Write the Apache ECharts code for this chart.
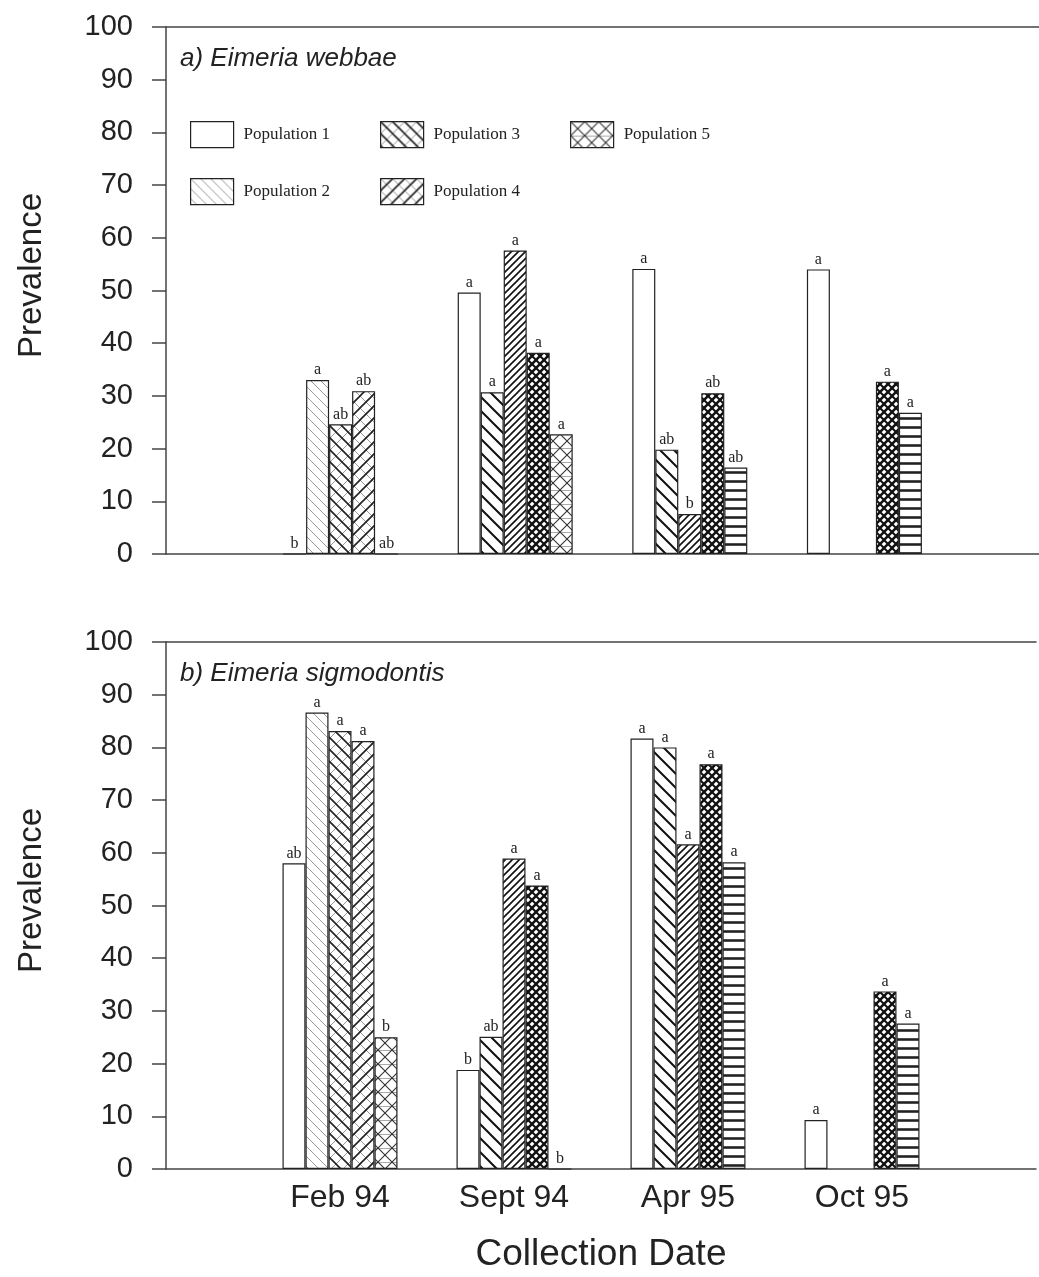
<!DOCTYPE html>
<html>
<head>
<meta charset="utf-8">
<script src="https://cdn.jsdelivr.net/npm/echarts@6/dist/echarts.min.js"></script>
<style>
  html, body { margin: 0; padding: 0; background: #fff; }
  #chart { width: 1039px; height: 1277px; }
</style>
</head>
<body>
<div id="chart"></div>
<script>
// Collection dates (x categories)
const dates = ['Feb 94', 'Sept 94', 'Apr 95', 'Oct 95'];
const populations = ['Population 1', 'Population 2', 'Population 3', 'Population 4', 'Population 5'];
const yTicks = { min: 0, max: 100, step: 10 };

// a) Eimeria webbae — prevalence (%) per population, one value per date
const webbaePop1 = [0, 49.6, 54.1, 54.0];
const webbaePop2 = [33.0, 30.7, 19.8, null];
const webbaePop3 = [24.6, 57.6, 7.6, null];
const webbaePop4 = [30.9, 38.2, 30.5, 32.7];
const webbaePop5 = [0, 22.7, 16.4, 26.8];
// significance letters above the bars
const webbaeSig1 = ['b', 'a', 'a', 'a'];
const webbaeSig2 = ['a', 'a', 'ab', ''];
const webbaeSig3 = ['ab', 'a', 'b', ''];
const webbaeSig4 = ['ab', 'a', 'ab', 'a'];
const webbaeSig5 = ['ab', 'a', 'ab', 'a'];

// b) Eimeria sigmodontis
const sigmoPop1 = [58.0, 18.8, 81.7, 9.3];
const sigmoPop2 = [86.6, 25.1, 80.0, null];
const sigmoPop3 = [83.1, 58.9, 61.6, null];
const sigmoPop4 = [81.2, 53.8, 76.8, 33.7];
const sigmoPop5 = [25.0, 0, 58.2, 27.6];
const sigmoSig1 = ['ab', 'b', 'a', 'a'];
const sigmoSig2 = ['a', 'ab', 'a', ''];
const sigmoSig3 = ['a', 'a', 'a', ''];
const sigmoSig4 = ['a', 'a', 'a', 'a'];
const sigmoSig5 = ['b', 'b', 'a', 'a'];

// ---- hatch fills --------------------------------------------------------
function tile(w, h, draw) {
  const c = document.createElement('canvas');
  c.width = w; c.height = h;
  const g = c.getContext('2d');
  g.fillStyle = '#fff';
  g.fillRect(0, 0, w, h);
  draw(g, w, h);
  return c;
}
function back(g, s, color, lw) {      // "\" lines
  g.strokeStyle = color; g.lineWidth = lw; g.beginPath();
  for (let k = -1; k <= 1; k++) { g.moveTo(k * s - 1, -1); g.lineTo(k * s + s + 1, s + 1); }
  g.stroke();
}
function fwd(g, s, color, lw) {       // "/" lines
  g.strokeStyle = color; g.lineWidth = lw; g.beginPath();
  for (let k = -1; k <= 1; k++) { g.moveTo(k * s - 1, s + 1); g.lineTo(k * s + s + 1, -1); }
  g.stroke();
}
function horiz(g, w, y, color, lw) {
  g.strokeStyle = color; g.lineWidth = lw; g.beginPath();
  g.moveTo(0, y); g.lineTo(w, y); g.stroke();
}
const fills = {
  none: '#ffffff',
  lightBack: { image: tile(10, 10, (g, s) => back(g, s, '#9a9a9a', 1)), repeat: 'repeat' },
  crossA: { image: tile(12, 12, (g, s) => { fwd(g, s, '#8a8a8a', 0.9); back(g, s, '#222', 1.6); }), repeat: 'repeat' },
  crossB: { image: tile(12, 12, (g, s) => { back(g, s, '#8a8a8a', 0.9); fwd(g, s, '#222', 1.6); }), repeat: 'repeat' },
  crossH: { image: tile(14, 14, (g, s) => { horiz(g, s, 0.5, '#aaa', 1); back(g, s, '#333', 1.1); fwd(g, s, '#333', 1.1); }), repeat: 'repeat' },
  boldBack: { image: tile(14, 14, (g, s) => back(g, s, '#111', 2)), repeat: 'repeat' },
  denseFwd: { image: tile(7, 7, (g, s) => fwd(g, s, '#111', 1.6)), repeat: 'repeat' },
  denseCross: { image: tile(8, 8, (g, s) => { back(g, s, '#111', 2.0); fwd(g, s, '#111', 2.5); }), repeat: 'repeat' },
  horiz: { image: tile(9, 9, (g, w) => horiz(g, w, 4.5, '#222', 2.6)), repeat: 'repeat' }
};
// hatch used by each population at each date
const hatchByDate = [
  ['none', 'lightBack', 'crossA', 'crossB', 'crossH'],
  ['none', 'boldBack', 'denseFwd', 'denseCross', 'crossH'],
  ['none', 'boldBack', 'denseFwd', 'denseCross', 'horiz'],
  ['none', 'boldBack', 'denseFwd', 'denseCross', 'horiz']
];

// ---- chart --------------------------------------------------------------
const axisCats = [''].concat(dates, ['']);   // padding slots either side
const ink = '#222';
const axisInk = '#444';
const sans = 'Liberation Sans';
const serif = 'Liberation Serif';

const panels = [
  { title: 'a) Eimeria webbae', top: 27, values: [webbaePop1, webbaePop2, webbaePop3, webbaePop4, webbaePop5],
    sig: [webbaeSig1, webbaeSig2, webbaeSig3, webbaeSig4, webbaeSig5] },
  { title: 'b) Eimeria sigmodontis', top: 642, values: [sigmoPop1, sigmoPop2, sigmoPop3, sigmoPop4, sigmoPop5],
    sig: [sigmoSig1, sigmoSig2, sigmoSig3, sigmoSig4, sigmoSig5] }
];

const grid = [], xAxis = [], yAxis = [], series = [], title = [];
panels.forEach((p, pi) => {
  grid.push({ left: 166, right: 0, top: p.top, height: 527 });
  title.push({
    text: p.title, left: 175, top: p.top + 14,
    textStyle: { fontFamily: sans, fontStyle: 'italic', fontWeight: 'normal', fontSize: 26, color: ink }
  });
  const last = pi === panels.length - 1;
  xAxis.push({
    gridIndex: pi, type: 'category', data: axisCats, boundaryGap: false,
    axisLine: { lineStyle: { color: axisInk, width: 1.5 } },
    axisTick: { show: false },
    axisLabel: { show: last, color: ink, fontFamily: sans, fontSize: 32, margin: 13 },
    name: last ? 'Collection Date' : '', nameLocation: 'middle', nameGap: 67,
    nameTextStyle: { fontFamily: sans, fontSize: 37, color: ink }
  });
  xAxis.push({
    gridIndex: pi, type: 'category', data: axisCats, boundaryGap: false, position: 'top',
    axisLine: { lineStyle: { color: axisInk, width: 1.5 } },
    axisTick: { show: false }, axisLabel: { show: false }
  });
  yAxis.push({
    gridIndex: pi, type: 'value', min: yTicks.min, max: yTicks.max, interval: yTicks.step,
    axisLine: { show: true, lineStyle: { color: axisInk, width: 1.5 } },
    axisTick: { show: true, length: 14, lineStyle: { color: axisInk, width: 1.5 } },
    splitLine: { show: false },
    axisLabel: { color: ink, fontFamily: sans, fontSize: 29, margin: 33 },
    name: 'Prevalence', nameLocation: 'middle', nameGap: 118, nameRotate: 90,
    nameTextStyle: { fontFamily: sans, fontSize: 33, color: ink, padding: [0, 0, 0, 30] }
  });
  populations.forEach((name, k) => {
    const vals = p.values[k];
    const letters = p.sig[k];
    const data = [null].concat(vals.map((v, d) => v == null ? null :
      { value: v, itemStyle: { color: fills[hatchByDate[d][k]] } }), [null]);
    series.push({
      name, type: 'bar', xAxisIndex: pi * 2, yAxisIndex: pi,
      barWidth: 23, barGap: '0%',
      itemStyle: { color: fills[hatchByDate[0][k]], borderColor: ink, borderWidth: 1.2 },
      label: {
        show: true, position: 'top', distance: 2, color: ink,
        fontFamily: serif, fontSize: 16,
        formatter: (q) => letters[q.dataIndex - 1] || ''
      },
      emphasis: { disabled: true },
      data
    });
  });
});

const legendText = { fontFamily: serif, fontSize: 17, color: ink, padding: [0, 0, 0, 5] };
const legend = [
  { data: ['Population 1', 'Population 3', 'Population 5'], left: 185, top: 116 },
  { data: ['Population 2', 'Population 4'], left: 185, top: 173 }
].map(l => Object.assign(l, {
  orient: 'horizontal', icon: 'rect', itemWidth: 43, itemHeight: 26, itemGap: 50,
  selectedMode: false, textStyle: legendText,
  itemStyle: { borderColor: ink, borderWidth: 1.2 }
}));

const chart = echarts.init(document.getElementById('chart'), null, { renderer: 'canvas' });
chart.setOption({
  animation: false,
  backgroundColor: '#ffffff',
  title, grid, xAxis, yAxis, legend, series
});
</script>
</body>
</html>
